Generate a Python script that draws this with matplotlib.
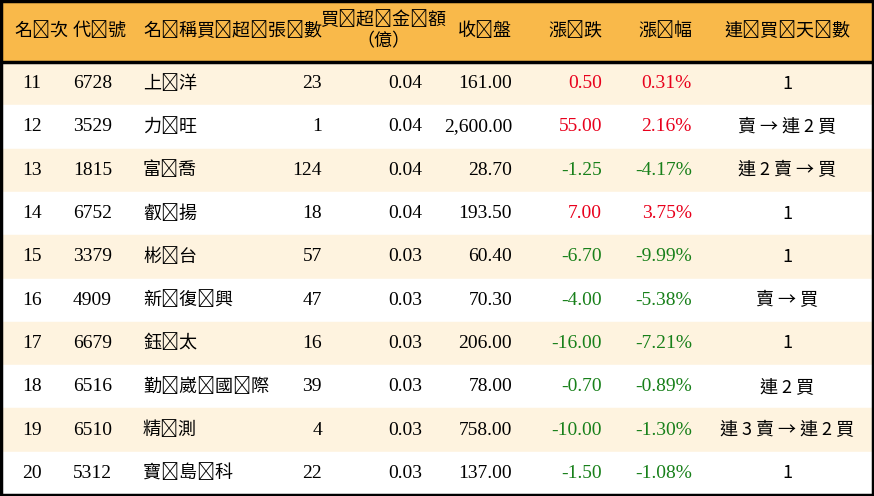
import matplotlib.pyplot as plt
from matplotlib.patches import Rectangle

rank = [11, 12, 13, 14, 15, 16, 17, 18, 19, 20]
codes = ["6728", "3529", "1815", "6752", "3379", "4909", "6679", "6516", "6510", "5312"]
names = ["上洋", "力旺", "富喬", "叡揚", "彬台", "新復興", "鈺太", "勤崴國際", "精測", "寶島科"]
lots = [23, 1, 124, 18, 57, 47, 16, 39, 4, 22]
amount = [0.04, 0.04, 0.04, 0.04, 0.03, 0.03, 0.03, 0.03, 0.03, 0.03]
close = [161.00, 2600.00, 28.70, 193.50, 60.40, 70.30, 206.00, 78.00, 758.00, 137.00]
change = [0.50, 55.00, -1.25, 7.00, -6.70, -4.00, -16.00, -0.70, -10.00, -1.50]
pct = [0.31, 2.16, -4.17, 3.75, -9.99, -5.38, -7.21, -0.89, -1.30, -1.08]
streak = ["1", "賣 → 連 2 買", "連 2 賣 → 買", "1", "1", "賣 → 買", "1", "連 2 買", "連 3 賣 → 連 2 買", "1"]

cjk = "Noto Sans CJK TC"
num = "Liberation Serif"

def spaced(s):
    # reference has wide CJK letter spacing
    return "\u2009".join(s)

fig = plt.figure(figsize=(8.74, 4.96), dpi=100)
ax = fig.add_axes([0, 0, 1, 1])
ax.set_xlim(0, 874)
ax.set_ylim(496, 0)
ax.axis("off")

head_h = 62
row_h = 43.3
ax.add_patch(Rectangle((0, 0), 874, head_h, color="#F9B94A", zorder=0))
for i in range(len(rank)):
    y0 = head_h + i * row_h
    col = "#FEF3DF" if i % 2 == 0 else "white"
    ax.add_patch(Rectangle((0, y0), 874, row_h, color=col, zorder=0))
ax.plot([0, 874], [head_h, head_h], color="black", lw=2.5)
ax.add_patch(Rectangle((1, 1), 872, 494, fill=False, ec="black", lw=2.5, zorder=3))

hy = head_h / 2
hs = 13
ax.text(14, hy, spaced("名次"), fontfamily=cjk, fontsize=hs, va="center", ha="left")
ax.text(73, hy, spaced("代號"), fontfamily=cjk, fontsize=hs, va="center", ha="left")
ax.text(143, hy, spaced("名稱"), fontfamily=cjk, fontsize=hs, va="center", ha="left")
ax.text(322, hy, spaced("買超張數"), fontfamily=cjk, fontsize=hs, va="center", ha="right")
ax.text(383, hy - 11, spaced("買超金額"), fontfamily=cjk, fontsize=hs, va="center", ha="center")
ax.text(383, hy + 10, "（億）", fontfamily=cjk, fontsize=hs, va="center", ha="center")
ax.text(512, hy, spaced("收盤"), fontfamily=cjk, fontsize=hs, va="center", ha="right")
ax.text(602, hy, spaced("漲跌"), fontfamily=cjk, fontsize=hs, va="center", ha="right")
ax.text(692, hy, spaced("漲幅"), fontfamily=cjk, fontsize=hs, va="center", ha="right")
ax.text(787, hy, spaced("連買天數"), fontfamily=cjk, fontsize=hs, va="center", ha="center")

fs = 14
for i in range(len(rank)):
    y = head_h + (i + 0.5) * row_h
    c = "#E8001C" if change[i] > 0 else "#18801A"
    ax.text(32, y, str(rank[i]), fontfamily=num, fontsize=fs, va="center", ha="center")
    ax.text(73, y, codes[i], fontfamily=num, fontsize=fs, va="center", ha="left")
    ax.text(143, y, spaced(names[i]), fontfamily=cjk, fontsize=13, va="center", ha="left")
    ax.text(322, y, str(lots[i]), fontfamily=num, fontsize=fs, va="center", ha="right")
    ax.text(422, y, f"{amount[i]:.2f}", fontfamily=num, fontsize=fs, va="center", ha="right")
    ax.text(512, y, f"{close[i]:,.2f}", fontfamily=num, fontsize=fs, va="center", ha="right")
    ax.text(602, y, f"{change[i]:.2f}", fontfamily=num, fontsize=fs, va="center", ha="right", color=c)
    ax.text(692, y, f"{pct[i]:.2f}%", fontfamily=num, fontsize=fs, va="center", ha="right", color=c)
    ax.text(787, y, streak[i], fontfamily=cjk, fontsize=13, va="center", ha="center")

fig.savefig("out.png", dpi=100)
